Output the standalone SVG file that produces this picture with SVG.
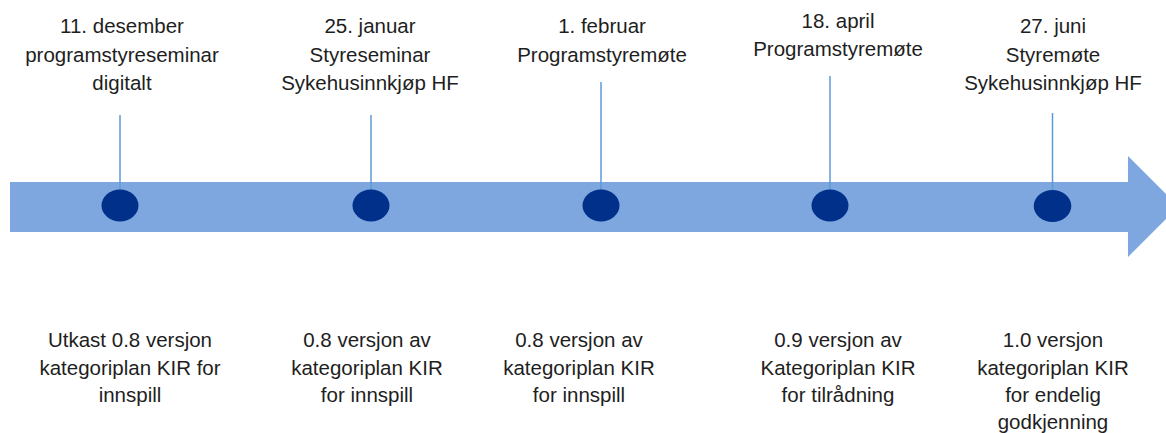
<svg xmlns="http://www.w3.org/2000/svg" width="1166" height="433" viewBox="0 0 1166 433">
<style>
text{font-family:"Liberation Sans",Arial,sans-serif;font-size:20.5px;fill:#1e1e1e;text-anchor:middle}
.dot{fill:#00308A}
.stem{stroke:#5B9BD5;stroke-width:1.5;fill:none}
</style>
<rect width="1166" height="433" fill="#ffffff"/>
<g id="arrow">
<polygon points="10,182 1128,182 1128,156 1178.5,206.5 1128,257 1128,232 10,232" fill="#7EA7DF"/>
</g>
<g id="connectors">
<line class="stem" x1="120" y1="115" x2="120" y2="190"/>
<line class="stem" x1="371" y1="115" x2="371" y2="190"/>
<line class="stem" x1="601" y1="82" x2="601" y2="190"/>
<line class="stem" x1="830" y1="76" x2="830" y2="190"/>
<line class="stem" x1="1052.5" y1="113" x2="1052.5" y2="190"/>
</g>
<g id="node1">
<ellipse class="dot" cx="120" cy="205.5" rx="18.5" ry="16"/>
<text x="122" y="33">11. desember</text>
<text x="122" y="62">programstyreseminar</text>
<text x="122" y="90">digitalt</text>
<text x="130" y="347">Utkast 0.8 versjon</text>
<text x="130" y="375">kategoriplan KIR for</text>
<text x="130" y="402">innspill</text>
</g>
<g id="node2">
<ellipse class="dot" cx="371" cy="205.5" rx="18.5" ry="16"/>
<text x="370" y="33">25. januar</text>
<text x="370" y="62">Styreseminar</text>
<text x="370" y="90">Sykehusinnkjøp HF</text>
<text x="367" y="347">0.8 versjon av</text>
<text x="367" y="375">kategoriplan KIR</text>
<text x="367" y="402">for innspill</text>
</g>
<g id="node3">
<ellipse class="dot" cx="601" cy="205.5" rx="18.5" ry="16"/>
<text x="602" y="33">1. februar</text>
<text x="602" y="62">Programstyremøte</text>
<text x="579" y="347">0.8 versjon av</text>
<text x="579" y="375">kategoriplan KIR</text>
<text x="579" y="402">for innspill</text>
</g>
<g id="node4">
<ellipse class="dot" cx="830" cy="205.5" rx="18.5" ry="16"/>
<text x="838" y="28">18. april</text>
<text x="838" y="56">Programstyremøte</text>
<text x="838" y="347">0.9 versjon av</text>
<text x="838" y="375">Kategoriplan KIR</text>
<text x="838" y="402">for tilrådning</text>
</g>
<g id="node5">
<ellipse class="dot" cx="1052.5" cy="206" rx="18.8" ry="16"/>
<text x="1053" y="33">27. juni</text>
<text x="1053" y="62">Styremøte</text>
<text x="1053" y="90">Sykehusinnkjøp HF</text>
<text x="1053" y="347">1.0 versjon</text>
<text x="1053" y="375">kategoriplan KIR</text>
<text x="1053" y="402">for endelig</text>
<text x="1053" y="429">godkjenning</text>
</g>
</svg>
